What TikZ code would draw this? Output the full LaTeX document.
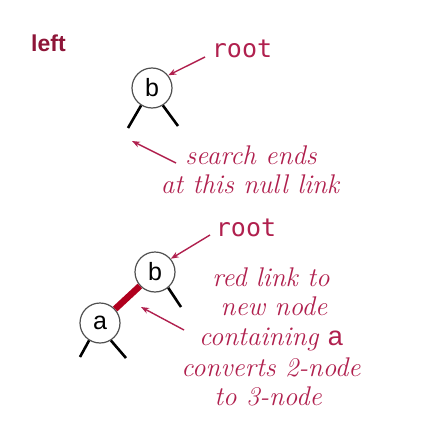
\documentclass[tikz,border=0pt]{standalone}
\usepackage{fontspec}
\setmainfont{Latin Modern Roman}
\newfontfamily\labsans{Liberation Sans}
\newfontfamily\codemono{DejaVu Sans Mono}
\usetikzlibrary{arrows.meta}
\definecolor{notered}{HTML}{B0204E}
\definecolor{titlered}{HTML}{8E1538}
\definecolor{linkred}{HTML}{B0001E}
\definecolor{ringgray}{HTML}{505050}
\tikzset{
  x=1pt, y=-1pt,
  treenode/.style={circle, draw=ringgray, line width=1.2pt, minimum size=40pt, inner sep=0pt,
    font=\labsans\fontsize{25}{25}\selectfont},
  nulllink/.style={line width=2.6pt, black},
  redlink/.style={line width=6.5pt, linkred},
  pointer/.style={notered, line width=1.4pt, -{Stealth[length=8pt,width=6pt]}},
  note/.style={notered, anchor=base, inner sep=0pt, font=\itshape\fontsize{27}{30}\selectfont},
  rootlabel/.style={notered, anchor=base, inner sep=0pt, font=\codemono\fontsize{25}{25}\selectfont},
}
\begin{document}
\begin{tikzpicture}
\useasboundingbox (0,0) rectangle (428,436);
% title
\node[anchor=base west, inner sep=0pt, titlered, font=\labsans\bfseries\fontsize{23}{23}\selectfont] (title) at (31,52) {left};
% top tree
\node[treenode] (b1) at (152,88) {b};
\coordinate (b1l) at (128,128);
\coordinate (b1r) at (178,126);
\draw[nulllink] (b1.-122) -- (b1l);
\draw[nulllink] (b1.-58) -- (b1r);
\node[rootlabel] (root1) at (242,58) {root};
\coordinate (r1a) at (205,57);
\draw[pointer] (r1a) -- (b1.38);
\node[note] (s1) at (251,164) {search ends};
\node[note] (s2) at (250,193) {at this null link};
\coordinate (n1s) at (176,163);
\coordinate (n1e) at (132,141);
\draw[pointer] (n1s) -- (n1e);
% bottom tree
\node[treenode] (b2) at (155,272) {b};
\node[treenode] (a2) at (100,323) {a};
\draw[redlink] (b2) -- (a2);
\coordinate (b2r) at (181,307);
\draw[nulllink] (b2.-50) -- (b2r);
\coordinate (a2l) at (80,357);
\coordinate (a2r) at (126,358);
\draw[nulllink] (a2.-122) -- (a2l);
\draw[nulllink] (a2.-58) -- (a2r);
\node[rootlabel] (root2) at (246,236) {root};
\coordinate (r2a) at (210,235);
\draw[pointer] (r2a) -- (b2.40);
\node[note] (t1) at (271,286) {red link to};
\node[note] (t2) at (274,315) {new node};
\node[note] (t3) at (271,345) {containing {\upshape\labsans a}};
\node[note] (t4) at (271,376) {converts 2-node};
\node[note] (t5) at (268,405) {to 3-node};
\coordinate (n2s) at (184,330);
\coordinate (n2e) at (141,307);
\draw[pointer] (n2s) -- (n2e);
\end{tikzpicture}
\end{document}
